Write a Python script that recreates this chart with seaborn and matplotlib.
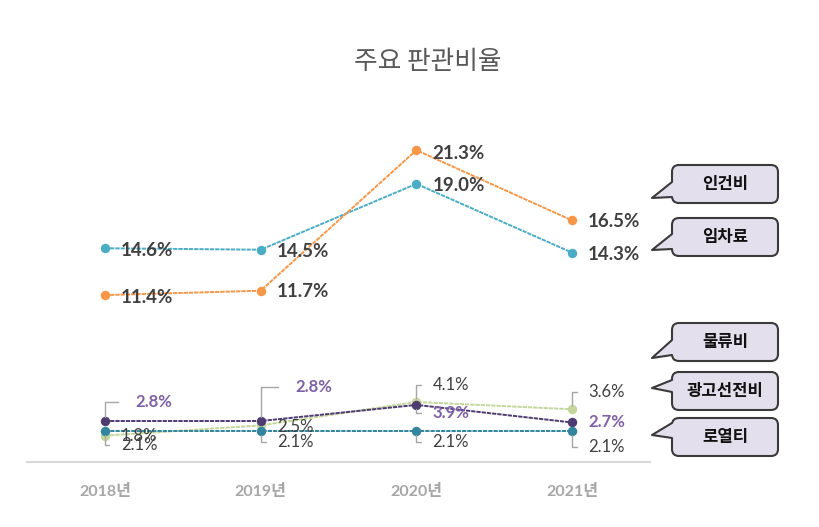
import matplotlib
matplotlib.use('Agg')
import matplotlib.pyplot as plt
import seaborn as sns
import pandas as pd
from matplotlib.patches import FancyBboxPatch, Polygon
from matplotlib.lines import Line2D
from matplotlib.transforms import Affine2D

# ---------------- data ----------------
years = ['2018년', '2019년', '2020년', '2021년']
labor = [11.4, 11.7, 21.3, 16.5]       # 인건비
rent = [14.6, 14.5, 19.0, 14.3]        # 임차료
logistics = [2.8, 2.8, 3.9, 2.7]       # 물류비
advert = [1.8, 2.5, 4.1, 3.6]          # 광고선전비
royalty = [2.1, 2.1, 2.1, 2.1]         # 로열티
series_names = ['인건비', '임차료', '물류비', '광고선전비', '로열티']
title = '주요 판관비율'

values = {'인건비': labor, '임차료': rent, '물류비': logistics,
          '광고선전비': advert, '로열티': royalty}
rows = []
for name in series_names:
    for i, v in enumerate(values[name]):
        rows.append({'series': name, 'pos': i, 'value': v})
df = pd.DataFrame(rows)

# ---------------- style ----------------
sns.set_theme(style='white')
plt.rcParams['font.family'] = ['Lato', 'Noto Sans CJK KR', 'DejaVu Sans']
KR = ['Noto Sans CJK KR', 'DejaVu Sans']
NUM = ['Lato', 'Noto Sans CJK KR']

colors = {'인건비': '#f79646', '임차료': '#4bacc6', '물류비': '#4e3b70',
          '광고선전비': '#c3d69b', '로열티': '#31859c'}
zorders = {'인건비': 3, '임차료': 2.9, '광고선전비': 3.1, '물류비': 3.2, '로열티': 3.3}

W, H = 819, 527
fig = plt.figure(figsize=(W / 100, H / 100), dpi=100)
ax = fig.add_axes([27 / W, 1 - 462 / H, (650 - 27) / W, (462 - 96) / H])

for name in ['임차료', '인건비', '광고선전비', '물류비', '로열티']:
    sub = df[df['series'] == name]
    sns.lineplot(data=sub, x='pos', y='value', color=colors[name], marker='o',
                 markersize=6.8, markeredgewidth=0, linewidth=1.4,
                 linestyle=(0, (2.2, 0.5)), errorbar=None, legend=False,
                 ax=ax, zorder=zorders[name])

ax.set_xlim(-0.5, 3.5)
ax.set_ylim(0, 25)
ax.set_xlabel('')
ax.set_ylabel('')
ax.set_yticks([])
ax.set_xticks(range(len(years)))
ax.set_xticklabels(years, color='#a6a6a6', fontsize=11.5, fontweight='bold',
                   family=NUM)
ax.tick_params(axis='x', length=0, pad=16)
for s in ['top', 'left', 'right']:
    ax.spines[s].set_visible(False)
ax.spines['bottom'].set_color('#d9d9d9')
ax.spines['bottom'].set_linewidth(1.5)

fig.text(428 / W, 1 - 62 / H, title, ha='center', va='center', fontsize=18.5,
         color='#595959', family=KR)

# ---------------- data labels ----------------
P = 0.72  # px -> pt
# (dx_px, dy_px, leader)
label_specs = {
    '인건비': [(16, -2, False), (16, -1, False), (16, -3, False), (16, -1, False)],
    '임차료': [(16, -2, False), (16, -2, False), (16, -2, False), (16, -2, False)],
    '물류비': [(30, 19, True), (35, 34, True), (16, -8, True), (16, 0, False)],
    '광고선전비': [(16, 0, False), (17, -2, False), (16, 17, True), (16, 17, True)],
    '로열티': [(16, -14, True), (17, -11, True), (16, -11, True), (16, -16, True)],
}
label_style = {
    '인건비': dict(color='#404040', fontsize=13.5, fontweight='bold'),
    '임차료': dict(color='#404040', fontsize=13.5, fontweight='bold'),
    '물류비': dict(color='#7f60a8', fontsize=12, fontweight='bold'),
    '광고선전비': dict(color='#404040', fontsize=12, fontweight='normal'),
    '로열티': dict(color='#404040', fontsize=12, fontweight='normal'),
}
for name in series_names:
    for i, v in enumerate(values[name]):
        dx, dy, leader = label_specs[name][i]
        kw = dict(xy=(i, v), xytext=(dx * P, dy * P), textcoords='offset points',
                  ha='left', va='center', family=NUM, zorder=5,
                  **label_style[name])
        if leader:
            kw['arrowprops'] = dict(arrowstyle='-', color='#a6a6a6', lw=1.0,
                                    shrinkA=6 if dx < 25 else 10, shrinkB=3,
                                    relpos=(0, 0.5),
                                    connectionstyle='angle,angleA=0,angleB=90,rad=0')
        ax.annotate(f'{v:.1f}%', **kw)

# ---------------- callouts ----------------
pix = Affine2D().scale(1 / W, -1 / H).translate(0, 1) + fig.transFigure
callouts = [  # box y0, y1, tip y, base y0, base y1
    (165, 203, 198, 182, 197),
    (218, 256, 250, 234, 249),
    (323, 361, 358, 340, 355),
    (372, 410, 388, 380, 392),
    (418, 456, 435, 423, 438),
]
bx0, bx1, tipx = 672, 778, 652
fill, edge = '#e4dfec', '#3a3a3a'
for name, (y0, y1, ty, b0, b1) in zip(series_names, callouts):
    box = FancyBboxPatch((bx0, y0), bx1 - bx0, y1 - y0,
                         boxstyle='round,pad=0,rounding_size=7',
                         facecolor=fill, edgecolor=edge, linewidth=1.5,
                         transform=pix, zorder=10)
    fig.add_artist(box)
    poly = Polygon([(bx0 + 3, b0), (bx0 - 1, b0), (tipx, ty), (bx0 - 1, b1), (bx0 + 3, b1)],
                   closed=True, facecolor=fill, edgecolor='none',
                   transform=pix, zorder=11)
    fig.add_artist(poly)
    ln = Line2D([bx0, tipx, bx0], [b0, ty, b1], color=edge, linewidth=1.5,
                transform=pix, zorder=12)
    fig.add_artist(ln)
    fig.text((bx0 + bx1) / 2 / W, 1 - (y0 + y1) / 2 / H, name, ha='center',
             va='center', fontsize=12, fontweight='bold', color='#111111',
             family=KR, zorder=13)

fig.savefig('out.png', dpi=100)
